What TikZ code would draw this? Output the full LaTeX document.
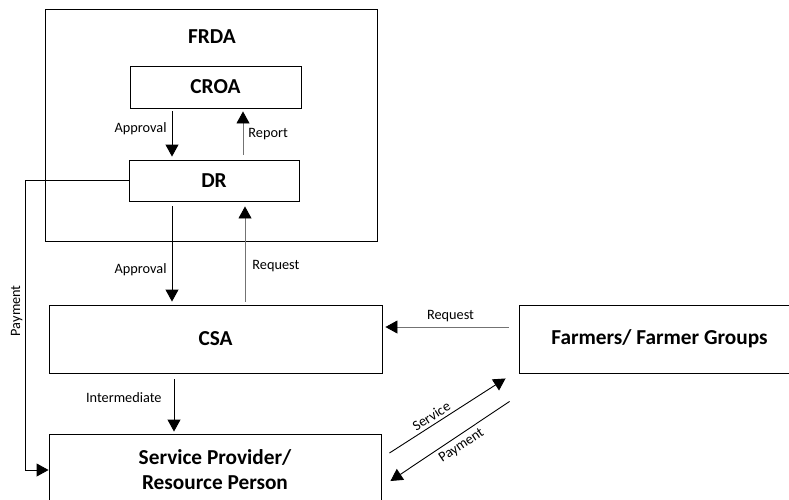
\documentclass[tikz,border=0pt]{standalone}
\usepackage{fontspec}
\setmainfont{Carlito}
\usetikzlibrary{arrows.meta,positioning}

\begin{document}
\begin{tikzpicture}
		[x=1pt, y=-1pt, line width=0.9pt,
		 box/.style = {draw, inner sep=0pt, align=center, font=\bfseries\fontsize{21.3}{25}\selectfont},
		 lbl/.style = {font=\fontsize{14.3}{16}\selectfont, inner sep=2pt},
		 arr/.style = {-{Triangle[width=13pt, length=12pt, color=black]}},
		 rarr/.style = {{Triangle[width=13pt, length=12pt, color=black]}-},
		 soft/.style = {draw=black!55}]
        \useasboundingbox (0,0) rectangle (789,499);

        \node[box, minimum width=332, minimum height=232] (frda) at (211,125) {};
        \node[box, draw=none] (frdatitle) at (212,37) {FRDA};
        \node[box, minimum width=171, minimum height=42] (croa) at (215.5,87) {CROA};
        \node[box, minimum width=170, minimum height=41] (dr) at (214,180.5) {DR};
        \node[box, minimum width=333, minimum height=68] (csa) at (215.5,339) {CSA};
        \node[box, minimum width=332, minimum height=72] (sp) at (215,470) {Service Provider/\\Resource Person};
        \node[box, minimum width=281, minimum height=68] (farm) at (659.5,339) {Farmers/ Farmer Groups};
        \coordinate (payturn) at (25,180.5);

        \draw[arr, shorten <=3pt, shorten >=3pt] ([xshift=-43.5pt]croa.south) -- ([xshift=-43.5pt]croa.south |- dr.north) node[lbl, pos=0.4, left=3pt] {Approval};
        \draw[arr, soft, shorten <=5pt, shorten >=3pt] ([xshift=29pt]dr.north) -- ([xshift=29pt]dr.north |- croa.south) node[lbl, pos=0.5, right=3pt] {Report};
        \draw[arr, shorten <=5pt, shorten >=3pt] ([xshift=-42pt]dr.south) -- ([xshift=-42pt]dr.south |- csa.north) node[lbl, pos=0.66, left=3pt] {Approval};
        \draw[arr, soft, shorten <=3pt, shorten >=5pt] ([xshift=31pt]dr.south |- csa.north) -- ([xshift=31pt]dr.south) node[lbl, pos=0.37, right=5pt] {Request};
        \draw[arr, shorten <=6pt, shorten >=2pt] ([xshift=-41.5pt]csa.south) -- ([xshift=-41.5pt]csa.south |- sp.north) node[lbl, pos=0.4, left=10pt] {Intermediate};
        \draw[arr] (dr.west) -- (payturn) |- (sp.west) node[lbl, pos=0.23, rotate=90, above=3pt] {Payment};
        \draw[arr, soft, shorten <=10pt, shorten >=3pt] ([yshift=12pt]farm.west) -- ([yshift=12pt]csa.east) node[lbl, midway, above=3pt] {Request};
        \draw[arr] ([shift={(8,-17)}]sp.east) -- ([shift={(-13,5)}]farm.south west) node[lbl, pos=0.4, sloped, above=1pt] {Service};
        \draw[rarr] ([shift={(9,11)}]sp.east) -- ([shift={(-9,28)}]farm.south west) node[lbl, pos=0.55, sloped, below=2pt] {Payment};
	\end{tikzpicture}
\end{document}
